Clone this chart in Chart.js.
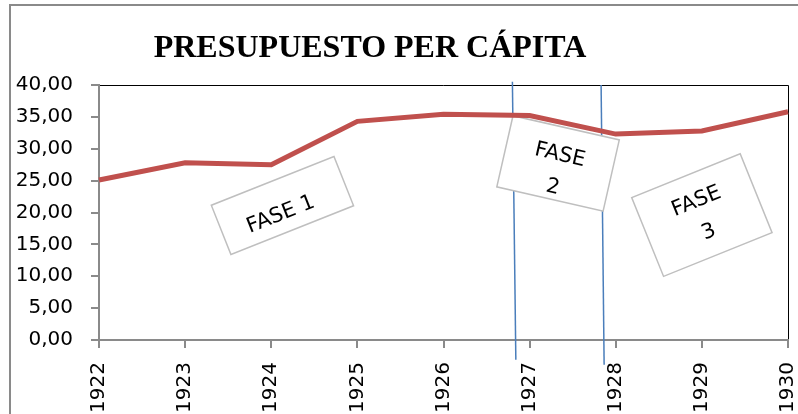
<!DOCTYPE html>
<html>
<head>
<meta charset="utf-8">
<script src="https://cdn.jsdelivr.net/npm/chart.js@4"></script>
<style>
  html, body { margin: 0; padding: 0; background: #fff; }
  #wrap { width: 798px; height: 414px; position: relative; }
</style>
</head>
<body>
<div id="wrap"><canvas id="c" width="798" height="414"></canvas></div>
<script>
// ---- data ----
const years = ['1922', '1923', '1924', '1925', '1926', '1927', '1928', '1929', '1930'];
const presupuesto = [25.1, 27.8, 27.5, 34.3, 35.4, 35.2, 32.3, 32.8, 35.8];
const yTicks = [0, 5, 10, 15, 20, 25, 30, 35, 40];
const titleText = 'PRESUPUESTO PER CÁPITA';
const phaseNames = [['FASE 1'], ['FASE', '2'], ['FASE', '3']];

// ---- annotations (positions in data space: category index, value) ----
const dividers = [
  { top: [4.80, 40.5], bottom: [4.84, -3.1] },
  { top: [5.83, 40.0], bottom: [5.865, -3.9] }
];
const phaseBoxes = [
  { at: [2.13, 21.1], w: 132, h: 53, angle: -21.7, textDx: -5, textDy: 8 },
  { at: [5.33, 27.7], w: 109, h: 73, angle: 12.8, textDx: 0, textDy: 8 },
  { at: [7.00, 19.6], w: 117, h: 85, angle: -22, textDx: 0, textDy: 2 }
];

const overlay = {
  id: 'overlay',
  beforeDraw(chart) {
    const ctx = chart.ctx;
    ctx.save();
    ctx.strokeStyle = '#8a8a8a';
    ctx.lineWidth = 2;
    ctx.beginPath();
    ctx.moveTo(10, 414);
    ctx.lineTo(10, 5);
    ctx.lineTo(798, 5);
    ctx.stroke();
    ctx.fillStyle = '#000';
    ctx.font = 'bold 32px "Liberation Serif", "Times New Roman", serif';
    ctx.textAlign = 'center';
    ctx.textBaseline = 'alphabetic';
    ctx.fillText(titleText, 370, 57);
    const a = chart.chartArea;
    ctx.strokeStyle = '#000';
    ctx.lineWidth = 1;
    ctx.beginPath();
    ctx.moveTo(a.left, a.top + 0.5);
    ctx.lineTo(a.right + 0.5, a.top + 0.5);
    ctx.lineTo(a.right + 0.5, a.bottom);
    ctx.stroke();
    ctx.restore();
  },
  beforeDatasetsDraw(chart) {
    const ctx = chart.ctx;
    const xs = chart.scales.x, ys = chart.scales.y;
    ctx.save();
    ctx.strokeStyle = '#4a7ebb';
    ctx.lineWidth = 1.5;
    dividers.forEach(d => {
      ctx.beginPath();
      ctx.moveTo(xs.getPixelForValue(d.top[0]), ys.getPixelForValue(d.top[1]));
      ctx.lineTo(xs.getPixelForValue(d.bottom[0]), ys.getPixelForValue(d.bottom[1]));
      ctx.stroke();
    });
    phaseBoxes.forEach((b, i) => {
      const cx = xs.getPixelForValue(b.at[0]);
      const cy = ys.getPixelForValue(b.at[1]);
      ctx.save();
      ctx.translate(cx, cy);
      ctx.rotate(b.angle * Math.PI / 180);
      ctx.fillStyle = '#fff';
      ctx.fillRect(-b.w / 2, -b.h / 2, b.w, b.h);
      ctx.strokeStyle = '#bfbfbf';
      ctx.lineWidth = 1.5;
      ctx.strokeRect(-b.w / 2, -b.h / 2, b.w, b.h);
      ctx.fillStyle = '#000';
      ctx.font = '21px "DejaVu Sans", sans-serif';
      ctx.textAlign = 'center';
      ctx.textBaseline = 'middle';
      const lines = phaseNames[i];
      const lh = 33;
      const y0 = b.textDy - (lines.length - 1) * lh / 2;
      lines.forEach((t, k) => ctx.fillText(t, b.textDx, y0 + k * lh));
      ctx.restore();
    });
    ctx.restore();
  }
};

new Chart(document.getElementById('c'), {
  type: 'line',
  data: {
    labels: years,
    datasets: [{
      label: 'Presupuesto per cápita',
      data: presupuesto,
      borderColor: '#c0504d',
      backgroundColor: '#c0504d',
      borderWidth: 5,
      pointRadius: 0,
      tension: 0,
      fill: false
    }]
  },
  options: {
    responsive: false,
    animation: false,
    layout: { padding: { top: 85, left: 0, right: 10, bottom: 0 } },
    plugins: { legend: { display: false }, title: { display: false }, tooltip: { enabled: false } },
    scales: {
      x: {
        offset: false,
        grid: { drawOnChartArea: false, drawTicks: true, tickLength: 8, color: '#8a8a8a', lineWidth: 2 },
        border: { display: true, color: '#8a8a8a', width: 2 },
        ticks: {
          minRotation: 90, maxRotation: 90, padding: 14, autoSkip: false,
          color: '#000', font: { family: '"DejaVu Sans", sans-serif', size: 20 }
        },
        afterFit(scale) { scale.height = 74; scale.paddingLeft = 0; scale.paddingRight = 0; }
      },
      y: {
        min: 0, max: 40,
        afterBuildTicks(scale) { scale.ticks = yTicks.map(v => ({ value: v })); },
        grid: { drawOnChartArea: false, drawTicks: true, tickLength: 8, color: '#8a8a8a', lineWidth: 2 },
        border: { display: true, color: '#8a8a8a', width: 2 },
        ticks: {
          padding: 18, color: '#000',
          font: { family: '"DejaVu Sans", sans-serif', size: 20 },
          callback: v => v.toFixed(2).replace('.', ',')
        },
        afterFit(scale) { scale.width = 99; }
      }
    }
  },
  plugins: [overlay]
});
</script>
</body>
</html>
